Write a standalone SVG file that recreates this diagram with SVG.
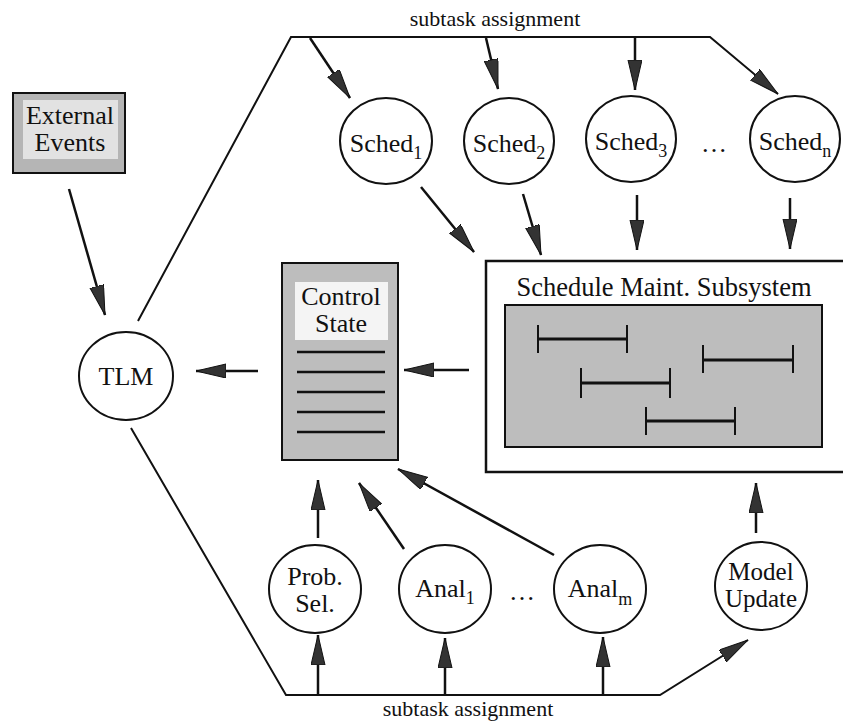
<svg xmlns="http://www.w3.org/2000/svg" width="843" height="726" viewBox="0 0 843 726">
<style>
text{font-family:"Liberation Serif","Times New Roman",serif;fill:#111;}
.t26{font-size:26px;text-anchor:middle;}
.lbl{font-size:22px;text-anchor:middle;}
.sub{font-size:18px;}
.node{fill:#fff;stroke:#111;stroke-width:2;}
.gray{fill:#bdbdbd;stroke:#111;stroke-width:2;}
.con{fill:none;stroke:#111;stroke-width:2;}
.arr{fill:none;stroke:#111;stroke-width:2.5;marker-end:url(#ah);}
.bar{stroke:#111;stroke-width:3;}
.tick{stroke:#111;stroke-width:2;}
.cl{stroke:#111;stroke-width:2.5;}
</style>
<defs>
<marker id="ah" markerUnits="userSpaceOnUse" markerWidth="32" markerHeight="18" refX="30" refY="7" orient="auto">
<path d="M0,0 L30,7 L0,14 z" fill="#333" stroke="#111" stroke-width="1"/>
</marker>
</defs>
<rect width="843" height="726" fill="#fff"/>

<g id="connectors">
<polyline class="con" points="138,321 291,37 710,37 778,94" style="marker-end:url(#ah)"/>
<line class="arr" x1="310" y1="38" x2="350" y2="98"/>
<line class="arr" x1="486" y1="38" x2="498" y2="89"/>
<line class="arr" x1="635" y1="38" x2="635" y2="90"/>
<polyline class="con" points="131,428 286,695 660,695 748,640" style="marker-end:url(#ah)"/>
<line class="arr" x1="318" y1="695" x2="318" y2="635"/>
<line class="arr" x1="445" y1="695" x2="445" y2="638"/>
<line class="arr" x1="603" y1="695" x2="603" y2="637"/>
<line class="arr" x1="69" y1="189" x2="105" y2="315"/>
<line class="arr" x1="421" y1="187" x2="474" y2="252"/>
<line class="arr" x1="523" y1="194" x2="541" y2="255"/>
<line class="arr" x1="637" y1="195" x2="637" y2="250"/>
<line class="arr" x1="790" y1="198" x2="790" y2="249"/>
<line class="arr" x1="258" y1="371" x2="196" y2="371"/>
<line class="arr" x1="469" y1="370" x2="404" y2="370"/>
<line class="arr" x1="318" y1="538" x2="318" y2="480"/>
<line class="arr" x1="404" y1="549" x2="359" y2="483"/>
<line class="arr" x1="554" y1="555" x2="398" y2="469"/>
<line class="arr" x1="756" y1="533" x2="756" y2="483"/>
</g>

<g id="label-top"><text class="lbl" x="495" y="26">subtask assignment</text></g>
<g id="label-bottom"><text class="lbl" x="468" y="716">subtask assignment</text></g>

<g id="external-events">
<rect x="13" y="93" width="112" height="80" fill="#b5b5b5" stroke="#111" stroke-width="2"/>
<rect x="23" y="100" width="95" height="59" fill="#e2e2e2"/>
<text class="t26" x="70" y="124">External</text>
<text class="t26" x="70" y="151">Events</text>
</g>

<g id="tlm">
<ellipse class="node" cx="126" cy="376" rx="47" ry="44"/>
<text class="t26" x="126" y="385">TLM</text>
</g>

<g id="control-state">
<rect class="gray" x="282" y="263" width="116" height="197"/>
<rect x="295" y="282" width="93" height="58" fill="#f4f4f4"/>
<text class="t26" x="341" y="305">Control</text>
<text class="t26" x="341" y="332">State</text>
<line class="cl" x1="297" y1="352" x2="385" y2="352"/>
<line class="cl" x1="297" y1="372" x2="385" y2="372"/>
<line class="cl" x1="297" y1="392" x2="385" y2="392"/>
<line class="cl" x1="297" y1="412" x2="385" y2="412"/>
<line class="cl" x1="297" y1="432" x2="385" y2="432"/>
</g>

<g id="schedule-maint">
<rect x="486" y="261" width="380" height="211" fill="#fff" stroke="#111" stroke-width="2.5"/>
<text class="t26" x="664" y="296" style="font-size:26.5px">Schedule Maint. Subsystem</text>
<rect class="gray" x="505" y="305" width="317" height="142"/>
<line class="bar" x1="538" y1="339" x2="627" y2="339"/>
<line class="tick" x1="538" y1="325" x2="538" y2="353"/>
<line class="tick" x1="627" y1="325" x2="627" y2="353"/>
<line class="bar" x1="703" y1="360" x2="793" y2="360"/>
<line class="tick" x1="703" y1="345" x2="703" y2="373"/>
<line class="tick" x1="793" y1="345" x2="793" y2="373"/>
<line class="bar" x1="581" y1="383" x2="670" y2="383"/>
<line class="tick" x1="581" y1="368" x2="581" y2="398"/>
<line class="tick" x1="670" y1="368" x2="670" y2="398"/>
<line class="bar" x1="646" y1="421" x2="735" y2="421"/>
<line class="tick" x1="646" y1="407" x2="646" y2="435"/>
<line class="tick" x1="735" y1="407" x2="735" y2="435"/>
</g>

<g id="sched1">
<ellipse class="node" cx="386" cy="141" rx="46" ry="43"/>
<text class="t26" x="386" y="152">Sched<tspan class="sub" dy="7">1</tspan></text>
</g>
<g id="sched2">
<ellipse class="node" cx="509" cy="141" rx="45" ry="43"/>
<text class="t26" x="509" y="152">Sched<tspan class="sub" dy="7">2</tspan></text>
</g>
<g id="sched3">
<ellipse class="node" cx="631" cy="139" rx="45" ry="43"/>
<text class="t26" x="631" y="150">Sched<tspan class="sub" dy="7">3</tspan></text>
</g>
<g id="sched-dots"><text class="t26" x="714" y="152">…</text></g>
<g id="schedn">
<ellipse class="node" cx="795" cy="139" rx="45" ry="43"/>
<text class="t26" x="795" y="150">Sched<tspan class="sub" dy="7">n</tspan></text>
</g>

<g id="prob-sel">
<ellipse class="node" cx="315" cy="589" rx="46" ry="44"/>
<text class="t26" x="315" y="585">Prob.</text>
<text class="t26" x="315" y="612">Sel.</text>
</g>
<g id="anal1">
<ellipse class="node" cx="445" cy="589" rx="46" ry="44"/>
<text class="t26" x="445" y="597">Anal<tspan class="sub" dy="7">1</tspan></text>
</g>
<g id="anal-dots"><text class="t26" x="522" y="600">…</text></g>
<g id="analm">
<ellipse class="node" cx="600" cy="589" rx="46" ry="44"/>
<text class="t26" x="600" y="597">Anal<tspan class="sub" dy="8">m</tspan></text>
</g>
<g id="model-update">
<ellipse class="node" cx="761" cy="586" rx="46" ry="44"/>
<text class="t26" x="761" y="580" style="font-size:25px">Model</text>
<text class="t26" x="761" y="607" style="font-size:25px">Update</text>
</g>
</svg>
